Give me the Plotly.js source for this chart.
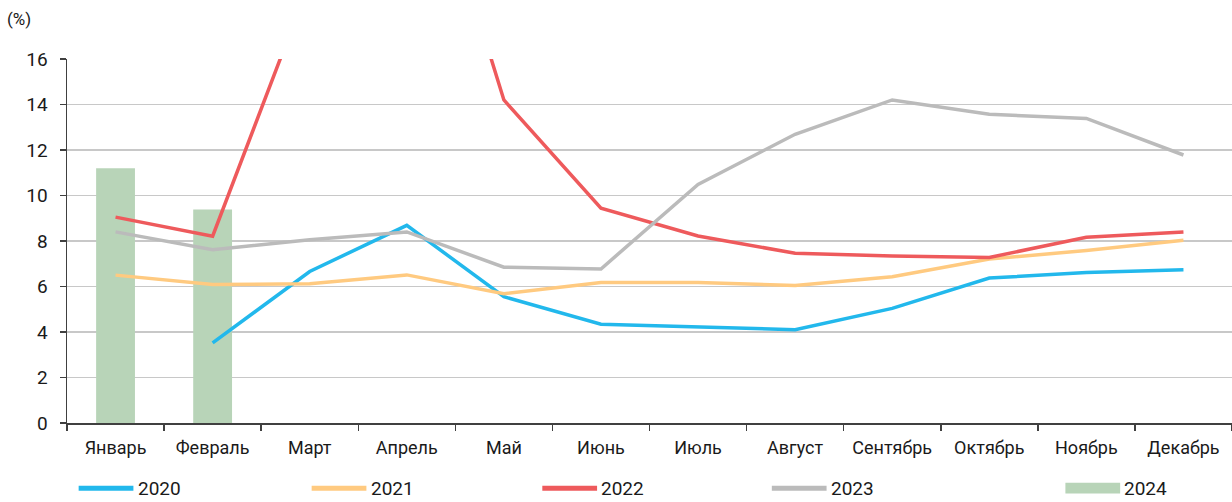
<!DOCTYPE html>
<html>
<head>
<meta charset="utf-8">
<script src="https://cdn.plot.ly/plotly-3.0.1.min.js"></script>
<style>
html,body{margin:0;padding:0;background:#fff;}
#chart{width:1232px;height:502px;}
</style>
</head>
<body>
<div id="chart"></div>
<script>
var months = ["Январь","Февраль","Март","Апрель","Май","Июнь","Июль","Август","Сентябрь","Октябрь","Ноябрь","Декабрь"];
var s2020 = [null, 3.52, 6.66, 8.69, 5.55, 4.34, 4.21, 4.10, 5.04, 6.37, 6.62, 6.74];
var s2021 = [6.50, 6.09, 6.12, 6.51, 5.68, 6.18, 6.18, 6.04, 6.43, 7.21, 7.58, 8.03];
var s2022 = [9.05, 8.21, 19.4, 28.0, 14.2, 9.44, 8.22, 7.46, 7.34, 7.28, 8.16, 8.40];
var s2023 = [8.40, 7.62, 8.06, 8.40, 6.85, 6.77, 10.49, 12.69, 14.20, 13.57, 13.39, 11.78];
var s2024 = [11.2, 9.38];
var seriesNames = ["2020","2021","2022","2023","2024"];
var colors = ["#22B8EC","#FFCA80","#EE5A5C","#BBBBBB","#B8D4B8"];
var yTicks = [0,2,4,6,8,10,12,14,16];

var font = "Roboto, 'DejaVu Sans', sans-serif";

var traces = [];
traces.push({type:"bar", x: months.slice(0, s2024.length), y: s2024, name: seriesNames[4],
  marker:{color: colors[4]}, width: 0.4, showlegend:false, hoverinfo:"skip"});
var lineData = [s2020, s2021, s2022, s2023];
for (var i = 0; i < lineData.length; i++) {
  traces.push({type:"scatter", mode:"lines", x: months, y: lineData[i], name: seriesNames[i],
    line:{color: colors[i], width: 3.5}, connectgaps:false, showlegend:false});
}

// custom legend (paper coords relative to plot area)
var shapes = [], annotations = [];
var legX = [0.010, 0.210, 0.408, 0.605, 0.857];
var symW = 0.047;
var legY = -0.179;
for (var k = 0; k < 5; k++) {
  if (k < 4) {
    shapes.push({type:"line", xref:"paper", yref:"paper", x0: legX[k], x1: legX[k]+symW, y0: legY, y1: legY,
      line:{color: colors[k], width: 5}});
  } else {
    shapes.push({type:"rect", xref:"paper", yref:"paper", x0: legX[k], x1: legX[k]+symW, y0: legY-0.015, y1: legY+0.015,
      fillcolor: colors[k], line:{width:0}});
  }
  annotations.push({xref:"paper", yref:"paper", x: legX[k]+symW+0.002, y: legY, xanchor:"left", yanchor:"middle",
    text: seriesNames[k], showarrow:false, font:{family: font, size: 19, color:"#1a1a1a"}});
}
annotations.push({xref:"paper", yref:"paper", x: -0.053, y: 1.11, xanchor:"left", yanchor:"middle",
  text:"(%)", showarrow:false, font:{family: font, size: 17, color:"#1a1a1a"}});

var layout = {
  width: 1232, height: 502,
  margin:{l:67, r:0, t:59, b:79},
  paper_bgcolor:"#fff", plot_bgcolor:"#fff",
  showlegend:false,
  barmode:"overlay",
  font:{family: font, size: 18, color:"#1a1a1a"},
  xaxis:{type:"category", range:[-0.5, 11.5], showgrid:false, zeroline:false,
    showline:true, linecolor:"#404040", linewidth:1.5,
    ticks:"outside", tickson:"boundaries", ticklen:6, tickcolor:"#404040", tickwidth:1.5,
    ticklabelstandoff: 8,
    tickfont:{family: font, size: 18, color:"#1a1a1a"}},
  yaxis:{range:[0,16], tickvals: yTicks, ticktext: yTicks.map(String), showgrid:true, gridcolor:"#C8C8C8", gridwidth:1.5,
    zeroline:false, showline:true, linecolor:"#404040", linewidth:1.5,
    ticks:"outside", ticklen:6, tickcolor:"#404040", tickwidth:1.5,
    ticklabelstandoff: 8,
    tickfont:{family: font, size: 19, color:"#1a1a1a"}},
  shapes: shapes,
  annotations: annotations
};

Plotly.newPlot("chart", traces, layout, {displayModeBar:false, staticPlot:true});
</script>
</body>
</html>
